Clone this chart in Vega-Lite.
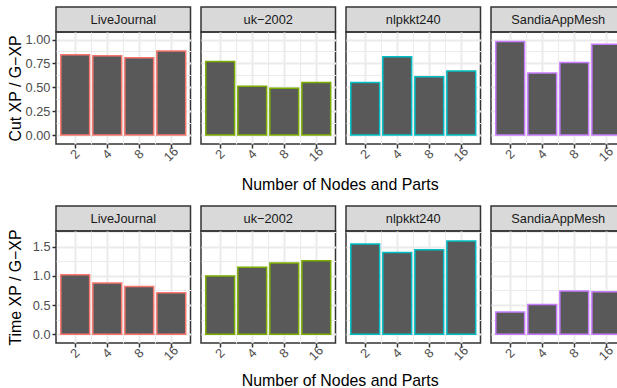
{
  "$schema": "https://vega.github.io/schema/vega-lite/v6.json",
  "padding": {"left": 6, "top": 6, "right": 0, "bottom": 0},
  "datasets": {
    "cut": [
      {"dataset": "LiveJournal", "nodes": 2, "value": 0.84},
      {"dataset": "LiveJournal", "nodes": 4, "value": 0.83},
      {"dataset": "LiveJournal", "nodes": 8, "value": 0.81},
      {"dataset": "LiveJournal", "nodes": 16, "value": 0.88},
      {"dataset": "uk−2002", "nodes": 2, "value": 0.77},
      {"dataset": "uk−2002", "nodes": 4, "value": 0.51},
      {"dataset": "uk−2002", "nodes": 8, "value": 0.49},
      {"dataset": "uk−2002", "nodes": 16, "value": 0.55},
      {"dataset": "nlpkkt240", "nodes": 2, "value": 0.55},
      {"dataset": "nlpkkt240", "nodes": 4, "value": 0.82},
      {"dataset": "nlpkkt240", "nodes": 8, "value": 0.61},
      {"dataset": "nlpkkt240", "nodes": 16, "value": 0.67},
      {"dataset": "SandiaAppMesh", "nodes": 2, "value": 0.98},
      {"dataset": "SandiaAppMesh", "nodes": 4, "value": 0.65},
      {"dataset": "SandiaAppMesh", "nodes": 8, "value": 0.76},
      {"dataset": "SandiaAppMesh", "nodes": 16, "value": 0.95}
    ],
    "time": [
      {"dataset": "LiveJournal", "nodes": 2, "value": 1.02},
      {"dataset": "LiveJournal", "nodes": 4, "value": 0.88},
      {"dataset": "LiveJournal", "nodes": 8, "value": 0.82},
      {"dataset": "LiveJournal", "nodes": 16, "value": 0.71},
      {"dataset": "uk−2002", "nodes": 2, "value": 1.0},
      {"dataset": "uk−2002", "nodes": 4, "value": 1.15},
      {"dataset": "uk−2002", "nodes": 8, "value": 1.22},
      {"dataset": "uk−2002", "nodes": 16, "value": 1.26},
      {"dataset": "nlpkkt240", "nodes": 2, "value": 1.55},
      {"dataset": "nlpkkt240", "nodes": 4, "value": 1.4},
      {"dataset": "nlpkkt240", "nodes": 8, "value": 1.45},
      {"dataset": "nlpkkt240", "nodes": 16, "value": 1.6},
      {"dataset": "SandiaAppMesh", "nodes": 2, "value": 0.38},
      {"dataset": "SandiaAppMesh", "nodes": 4, "value": 0.51},
      {"dataset": "SandiaAppMesh", "nodes": 8, "value": 0.74},
      {"dataset": "SandiaAppMesh", "nodes": 16, "value": 0.73}
    ]
  },
  "spacing": 12,
  "columns": 1,
  "align": "none",
  "concat": [
    {
      "spacing": 8,
      "title": {"text": "Number of Nodes and Parts", "orient": "bottom", "anchor": "middle", "frame": "bounds", "dx": 24, "offset": 12},
      "hconcat": [
        {"spacing": 0, "bounds": "flush", "vconcat": [
          {"width": 134.5, "height": 25, "view": {"fill": "#D9D9D9", "stroke": "#333333", "strokeWidth": 1.5},
           "data": {"name": "cut"},
           "transform": [{"filter": "datum.dataset === 'LiveJournal'"}, {"aggregate": [{"op": "count", "as": "n"}], "groupby": ["dataset"]}],
           "mark": {"type": "text", "fontSize": 12.8, "color": "#1A1A1A"},
           "encoding": {"text": {"field": "dataset", "type": "nominal"}}},
          {"width": 134.5, "height": 112,
           "data": {"name": "cut"},
           "transform": [{"filter": "datum.dataset === 'LiveJournal'"}],
           "layer": [
             {"mark": {"type": "bar", "opacity": 0},
              "encoding": {"x": {"field": "nodes", "type": "ordinal", "sort": [2, 4, 8, 16], "scale": {"paddingInner": 0.1, "paddingOuter": 0.15},
                "axis": {"orient": "top", "values": [4, 8, 16], "bandPosition": -0.0556, "grid": true, "gridWidth": 1, "labels": false, "ticks": false, "title": null}}}},
             {"mark": {"type": "bar", "fill": "#595959", "strokeWidth": 1.5},
              "encoding": {
                "x": {"field": "nodes", "type": "ordinal", "sort": [2, 4, 8, 16], "scale": {"paddingInner": 0.1, "paddingOuter": 0.15},
                  "axis": {"grid": true, "gridWidth": 2, "bandPosition": 0.5, "labelAngle": -45, "labelAlign": "center", "labelBaseline": "middle", "labelPadding": 6, "title": null}},
                "y": {"field": "value", "type": "quantitative", "scale": {"domain": [-0.094, 1.079], "nice": false, "zero": false},
                  "axis": {"title": "Cut XP / G−XP", "titlePadding": 6, "minExtent": 27, "maxExtent": 27, "values": [0, 0.125, 0.25, 0.375, 0.5, 0.625, 0.75, 0.875, 1], "labelOverlap": false,
                    "labelExpr": "round(datum.value*8) % 2 === 0 ? format(datum.value, '.2f') : ''",
                    "gridWidth": {"condition": {"test": "round(datum.value*8) % 2 === 0", "value": 2}, "value": 1},
                    "tickOpacity": {"condition": {"test": "round(datum.value*8) % 2 === 0", "value": 1}, "value": 0}}},
                "stroke": {"field": "dataset", "type": "nominal", "legend": null, "scale": {"domain": ["LiveJournal", "uk−2002", "nlpkkt240", "SandiaAppMesh"], "range": ["#F8766D", "#7CAE00", "#00BFC4", "#C77CFF"]}}
              }}
           ],
           "resolve": {"axis": {"x": "independent"}}}
        ]},
        {"spacing": 0, "bounds": "flush", "vconcat": [
          {"width": 134.5, "height": 25, "view": {"fill": "#D9D9D9", "stroke": "#333333", "strokeWidth": 1.5},
           "data": {"name": "cut"},
           "transform": [{"filter": "datum.dataset === 'uk−2002'"}, {"aggregate": [{"op": "count", "as": "n"}], "groupby": ["dataset"]}],
           "mark": {"type": "text", "fontSize": 12.8, "color": "#1A1A1A"},
           "encoding": {"text": {"field": "dataset", "type": "nominal"}}},
          {"width": 134.5, "height": 112,
           "data": {"name": "cut"},
           "transform": [{"filter": "datum.dataset === 'uk−2002'"}],
           "layer": [
             {"mark": {"type": "bar", "opacity": 0},
              "encoding": {"x": {"field": "nodes", "type": "ordinal", "sort": [2, 4, 8, 16], "scale": {"paddingInner": 0.1, "paddingOuter": 0.15},
                "axis": {"orient": "top", "values": [4, 8, 16], "bandPosition": -0.0556, "grid": true, "gridWidth": 1, "labels": false, "ticks": false, "title": null}}}},
             {"mark": {"type": "bar", "fill": "#595959", "strokeWidth": 1.5},
              "encoding": {
                "x": {"field": "nodes", "type": "ordinal", "sort": [2, 4, 8, 16], "scale": {"paddingInner": 0.1, "paddingOuter": 0.15},
                  "axis": {"grid": true, "gridWidth": 2, "bandPosition": 0.5, "labelAngle": -45, "labelAlign": "center", "labelBaseline": "middle", "labelPadding": 6, "title": null}},
                "y": {"field": "value", "type": "quantitative", "scale": {"domain": [-0.094, 1.079], "nice": false, "zero": false},
                  "axis": {"title": null, "labels": false, "ticks": false, "values": [0, 0.125, 0.25, 0.375, 0.5, 0.625, 0.75, 0.875, 1],
                    "gridWidth": {"condition": {"test": "round(datum.value*8) % 2 === 0", "value": 2}, "value": 1}}},
                "stroke": {"field": "dataset", "type": "nominal", "legend": null, "scale": {"domain": ["LiveJournal", "uk−2002", "nlpkkt240", "SandiaAppMesh"], "range": ["#F8766D", "#7CAE00", "#00BFC4", "#C77CFF"]}}
              }}
           ],
           "resolve": {"axis": {"x": "independent"}}}
        ]},
        {"spacing": 0, "bounds": "flush", "vconcat": [
          {"width": 134.5, "height": 25, "view": {"fill": "#D9D9D9", "stroke": "#333333", "strokeWidth": 1.5},
           "data": {"name": "cut"},
           "transform": [{"filter": "datum.dataset === 'nlpkkt240'"}, {"aggregate": [{"op": "count", "as": "n"}], "groupby": ["dataset"]}],
           "mark": {"type": "text", "fontSize": 12.8, "color": "#1A1A1A"},
           "encoding": {"text": {"field": "dataset", "type": "nominal"}}},
          {"width": 134.5, "height": 112,
           "data": {"name": "cut"},
           "transform": [{"filter": "datum.dataset === 'nlpkkt240'"}],
           "layer": [
             {"mark": {"type": "bar", "opacity": 0},
              "encoding": {"x": {"field": "nodes", "type": "ordinal", "sort": [2, 4, 8, 16], "scale": {"paddingInner": 0.1, "paddingOuter": 0.15},
                "axis": {"orient": "top", "values": [4, 8, 16], "bandPosition": -0.0556, "grid": true, "gridWidth": 1, "labels": false, "ticks": false, "title": null}}}},
             {"mark": {"type": "bar", "fill": "#595959", "strokeWidth": 1.5},
              "encoding": {
                "x": {"field": "nodes", "type": "ordinal", "sort": [2, 4, 8, 16], "scale": {"paddingInner": 0.1, "paddingOuter": 0.15},
                  "axis": {"grid": true, "gridWidth": 2, "bandPosition": 0.5, "labelAngle": -45, "labelAlign": "center", "labelBaseline": "middle", "labelPadding": 6, "title": null}},
                "y": {"field": "value", "type": "quantitative", "scale": {"domain": [-0.094, 1.079], "nice": false, "zero": false},
                  "axis": {"title": null, "labels": false, "ticks": false, "values": [0, 0.125, 0.25, 0.375, 0.5, 0.625, 0.75, 0.875, 1],
                    "gridWidth": {"condition": {"test": "round(datum.value*8) % 2 === 0", "value": 2}, "value": 1}}},
                "stroke": {"field": "dataset", "type": "nominal", "legend": null, "scale": {"domain": ["LiveJournal", "uk−2002", "nlpkkt240", "SandiaAppMesh"], "range": ["#F8766D", "#7CAE00", "#00BFC4", "#C77CFF"]}}
              }}
           ],
           "resolve": {"axis": {"x": "independent"}}}
        ]},
        {"spacing": 0, "bounds": "flush", "vconcat": [
          {"width": 134.5, "height": 25, "view": {"fill": "#D9D9D9", "stroke": "#333333", "strokeWidth": 1.5},
           "data": {"name": "cut"},
           "transform": [{"filter": "datum.dataset === 'SandiaAppMesh'"}, {"aggregate": [{"op": "count", "as": "n"}], "groupby": ["dataset"]}],
           "mark": {"type": "text", "fontSize": 12.8, "color": "#1A1A1A"},
           "encoding": {"text": {"field": "dataset", "type": "nominal"}}},
          {"width": 134.5, "height": 112,
           "data": {"name": "cut"},
           "transform": [{"filter": "datum.dataset === 'SandiaAppMesh'"}],
           "layer": [
             {"mark": {"type": "bar", "opacity": 0},
              "encoding": {"x": {"field": "nodes", "type": "ordinal", "sort": [2, 4, 8, 16], "scale": {"paddingInner": 0.1, "paddingOuter": 0.15},
                "axis": {"orient": "top", "values": [4, 8, 16], "bandPosition": -0.0556, "grid": true, "gridWidth": 1, "labels": false, "ticks": false, "title": null}}}},
             {"mark": {"type": "bar", "fill": "#595959", "strokeWidth": 1.5},
              "encoding": {
                "x": {"field": "nodes", "type": "ordinal", "sort": [2, 4, 8, 16], "scale": {"paddingInner": 0.1, "paddingOuter": 0.15},
                  "axis": {"grid": true, "gridWidth": 2, "bandPosition": 0.5, "labelAngle": -45, "labelAlign": "center", "labelBaseline": "middle", "labelPadding": 6, "title": null}},
                "y": {"field": "value", "type": "quantitative", "scale": {"domain": [-0.094, 1.079], "nice": false, "zero": false},
                  "axis": {"title": null, "labels": false, "ticks": false, "values": [0, 0.125, 0.25, 0.375, 0.5, 0.625, 0.75, 0.875, 1],
                    "gridWidth": {"condition": {"test": "round(datum.value*8) % 2 === 0", "value": 2}, "value": 1}}},
                "stroke": {"field": "dataset", "type": "nominal", "legend": null, "scale": {"domain": ["LiveJournal", "uk−2002", "nlpkkt240", "SandiaAppMesh"], "range": ["#F8766D", "#7CAE00", "#00BFC4", "#C77CFF"]}}
              }}
           ],
           "resolve": {"axis": {"x": "independent"}}}
        ]}
      ]
    },
    {
      "spacing": 8,
      "title": {"text": "Number of Nodes and Parts", "orient": "bottom", "anchor": "middle", "frame": "bounds", "dx": 24, "offset": 9},
      "hconcat": [
        {"spacing": 0, "bounds": "flush", "vconcat": [
          {"width": 134.5, "height": 25, "view": {"fill": "#D9D9D9", "stroke": "#333333", "strokeWidth": 1.5},
           "data": {"name": "time"},
           "transform": [{"filter": "datum.dataset === 'LiveJournal'"}, {"aggregate": [{"op": "count", "as": "n"}], "groupby": ["dataset"]}],
           "mark": {"type": "text", "fontSize": 12.8, "color": "#1A1A1A"},
           "encoding": {"text": {"field": "dataset", "type": "nominal"}}},
          {"width": 134.5, "height": 112,
           "data": {"name": "time"},
           "transform": [{"filter": "datum.dataset === 'LiveJournal'"}],
           "layer": [
             {"mark": {"type": "bar", "opacity": 0},
              "encoding": {"x": {"field": "nodes", "type": "ordinal", "sort": [2, 4, 8, 16], "scale": {"paddingInner": 0.1, "paddingOuter": 0.15},
                "axis": {"orient": "top", "values": [4, 8, 16], "bandPosition": -0.0556, "grid": true, "gridWidth": 1, "labels": false, "ticks": false, "title": null}}}},
             {"mark": {"type": "bar", "fill": "#595959", "strokeWidth": 1.5},
              "encoding": {
                "x": {"field": "nodes", "type": "ordinal", "sort": [2, 4, 8, 16], "scale": {"paddingInner": 0.1, "paddingOuter": 0.15},
                  "axis": {"grid": true, "gridWidth": 2, "bandPosition": 0.5, "labelAngle": -45, "labelAlign": "center", "labelBaseline": "middle", "labelPadding": 6, "title": null}},
                "y": {"field": "value", "type": "quantitative", "scale": {"domain": [-0.151, 1.771], "nice": false, "zero": false},
                  "axis": {"title": "Time XP / G−XP", "titlePadding": 6, "minExtent": 27, "maxExtent": 27, "values": [0, 0.25, 0.5, 0.75, 1, 1.25, 1.5, 1.75], "labelOverlap": false,
                    "labelExpr": "round(datum.value*4) % 2 === 0 ? format(datum.value, '.1f') : ''",
                    "gridWidth": {"condition": {"test": "round(datum.value*4) % 2 === 0", "value": 2}, "value": 1},
                    "tickOpacity": {"condition": {"test": "round(datum.value*4) % 2 === 0", "value": 1}, "value": 0}}},
                "stroke": {"field": "dataset", "type": "nominal", "legend": null, "scale": {"domain": ["LiveJournal", "uk−2002", "nlpkkt240", "SandiaAppMesh"], "range": ["#F8766D", "#7CAE00", "#00BFC4", "#C77CFF"]}}
              }}
           ],
           "resolve": {"axis": {"x": "independent"}}}
        ]},
        {"spacing": 0, "bounds": "flush", "vconcat": [
          {"width": 134.5, "height": 25, "view": {"fill": "#D9D9D9", "stroke": "#333333", "strokeWidth": 1.5},
           "data": {"name": "time"},
           "transform": [{"filter": "datum.dataset === 'uk−2002'"}, {"aggregate": [{"op": "count", "as": "n"}], "groupby": ["dataset"]}],
           "mark": {"type": "text", "fontSize": 12.8, "color": "#1A1A1A"},
           "encoding": {"text": {"field": "dataset", "type": "nominal"}}},
          {"width": 134.5, "height": 112,
           "data": {"name": "time"},
           "transform": [{"filter": "datum.dataset === 'uk−2002'"}],
           "layer": [
             {"mark": {"type": "bar", "opacity": 0},
              "encoding": {"x": {"field": "nodes", "type": "ordinal", "sort": [2, 4, 8, 16], "scale": {"paddingInner": 0.1, "paddingOuter": 0.15},
                "axis": {"orient": "top", "values": [4, 8, 16], "bandPosition": -0.0556, "grid": true, "gridWidth": 1, "labels": false, "ticks": false, "title": null}}}},
             {"mark": {"type": "bar", "fill": "#595959", "strokeWidth": 1.5},
              "encoding": {
                "x": {"field": "nodes", "type": "ordinal", "sort": [2, 4, 8, 16], "scale": {"paddingInner": 0.1, "paddingOuter": 0.15},
                  "axis": {"grid": true, "gridWidth": 2, "bandPosition": 0.5, "labelAngle": -45, "labelAlign": "center", "labelBaseline": "middle", "labelPadding": 6, "title": null}},
                "y": {"field": "value", "type": "quantitative", "scale": {"domain": [-0.151, 1.771], "nice": false, "zero": false},
                  "axis": {"title": null, "labels": false, "ticks": false, "values": [0, 0.25, 0.5, 0.75, 1, 1.25, 1.5, 1.75],
                    "gridWidth": {"condition": {"test": "round(datum.value*4) % 2 === 0", "value": 2}, "value": 1}}},
                "stroke": {"field": "dataset", "type": "nominal", "legend": null, "scale": {"domain": ["LiveJournal", "uk−2002", "nlpkkt240", "SandiaAppMesh"], "range": ["#F8766D", "#7CAE00", "#00BFC4", "#C77CFF"]}}
              }}
           ],
           "resolve": {"axis": {"x": "independent"}}}
        ]},
        {"spacing": 0, "bounds": "flush", "vconcat": [
          {"width": 134.5, "height": 25, "view": {"fill": "#D9D9D9", "stroke": "#333333", "strokeWidth": 1.5},
           "data": {"name": "time"},
           "transform": [{"filter": "datum.dataset === 'nlpkkt240'"}, {"aggregate": [{"op": "count", "as": "n"}], "groupby": ["dataset"]}],
           "mark": {"type": "text", "fontSize": 12.8, "color": "#1A1A1A"},
           "encoding": {"text": {"field": "dataset", "type": "nominal"}}},
          {"width": 134.5, "height": 112,
           "data": {"name": "time"},
           "transform": [{"filter": "datum.dataset === 'nlpkkt240'"}],
           "layer": [
             {"mark": {"type": "bar", "opacity": 0},
              "encoding": {"x": {"field": "nodes", "type": "ordinal", "sort": [2, 4, 8, 16], "scale": {"paddingInner": 0.1, "paddingOuter": 0.15},
                "axis": {"orient": "top", "values": [4, 8, 16], "bandPosition": -0.0556, "grid": true, "gridWidth": 1, "labels": false, "ticks": false, "title": null}}}},
             {"mark": {"type": "bar", "fill": "#595959", "strokeWidth": 1.5},
              "encoding": {
                "x": {"field": "nodes", "type": "ordinal", "sort": [2, 4, 8, 16], "scale": {"paddingInner": 0.1, "paddingOuter": 0.15},
                  "axis": {"grid": true, "gridWidth": 2, "bandPosition": 0.5, "labelAngle": -45, "labelAlign": "center", "labelBaseline": "middle", "labelPadding": 6, "title": null}},
                "y": {"field": "value", "type": "quantitative", "scale": {"domain": [-0.151, 1.771], "nice": false, "zero": false},
                  "axis": {"title": null, "labels": false, "ticks": false, "values": [0, 0.25, 0.5, 0.75, 1, 1.25, 1.5, 1.75],
                    "gridWidth": {"condition": {"test": "round(datum.value*4) % 2 === 0", "value": 2}, "value": 1}}},
                "stroke": {"field": "dataset", "type": "nominal", "legend": null, "scale": {"domain": ["LiveJournal", "uk−2002", "nlpkkt240", "SandiaAppMesh"], "range": ["#F8766D", "#7CAE00", "#00BFC4", "#C77CFF"]}}
              }}
           ],
           "resolve": {"axis": {"x": "independent"}}}
        ]},
        {"spacing": 0, "bounds": "flush", "vconcat": [
          {"width": 134.5, "height": 25, "view": {"fill": "#D9D9D9", "stroke": "#333333", "strokeWidth": 1.5},
           "data": {"name": "time"},
           "transform": [{"filter": "datum.dataset === 'SandiaAppMesh'"}, {"aggregate": [{"op": "count", "as": "n"}], "groupby": ["dataset"]}],
           "mark": {"type": "text", "fontSize": 12.8, "color": "#1A1A1A"},
           "encoding": {"text": {"field": "dataset", "type": "nominal"}}},
          {"width": 134.5, "height": 112,
           "data": {"name": "time"},
           "transform": [{"filter": "datum.dataset === 'SandiaAppMesh'"}],
           "layer": [
             {"mark": {"type": "bar", "opacity": 0},
              "encoding": {"x": {"field": "nodes", "type": "ordinal", "sort": [2, 4, 8, 16], "scale": {"paddingInner": 0.1, "paddingOuter": 0.15},
                "axis": {"orient": "top", "values": [4, 8, 16], "bandPosition": -0.0556, "grid": true, "gridWidth": 1, "labels": false, "ticks": false, "title": null}}}},
             {"mark": {"type": "bar", "fill": "#595959", "strokeWidth": 1.5},
              "encoding": {
                "x": {"field": "nodes", "type": "ordinal", "sort": [2, 4, 8, 16], "scale": {"paddingInner": 0.1, "paddingOuter": 0.15},
                  "axis": {"grid": true, "gridWidth": 2, "bandPosition": 0.5, "labelAngle": -45, "labelAlign": "center", "labelBaseline": "middle", "labelPadding": 6, "title": null}},
                "y": {"field": "value", "type": "quantitative", "scale": {"domain": [-0.151, 1.771], "nice": false, "zero": false},
                  "axis": {"title": null, "labels": false, "ticks": false, "values": [0, 0.25, 0.5, 0.75, 1, 1.25, 1.5, 1.75],
                    "gridWidth": {"condition": {"test": "round(datum.value*4) % 2 === 0", "value": 2}, "value": 1}}},
                "stroke": {"field": "dataset", "type": "nominal", "legend": null, "scale": {"domain": ["LiveJournal", "uk−2002", "nlpkkt240", "SandiaAppMesh"], "range": ["#F8766D", "#7CAE00", "#00BFC4", "#C77CFF"]}}
              }}
           ],
           "resolve": {"axis": {"x": "independent"}}}
        ]}
      ]
    }
  ],
  "config": {
    "font": "Liberation Sans",
    "view": {"stroke": "#333333", "strokeWidth": 1.5},
    "axis": {"domain": false, "gridColor": "#EBEBEB", "tickColor": "#333333", "tickSize": 4, "tickWidth": 1.5,
      "labelColor": "#4D4D4D", "labelFontSize": 12.8, "labelFont": "Liberation Sans",
      "titleFont": "Liberation Sans", "titleFontSize": 15.9, "titleFontWeight": "normal", "titleColor": "#000000"},
    "title": {"font": "Liberation Sans", "fontSize": 15.9, "fontWeight": "normal", "color": "#000000"}
  }
}
